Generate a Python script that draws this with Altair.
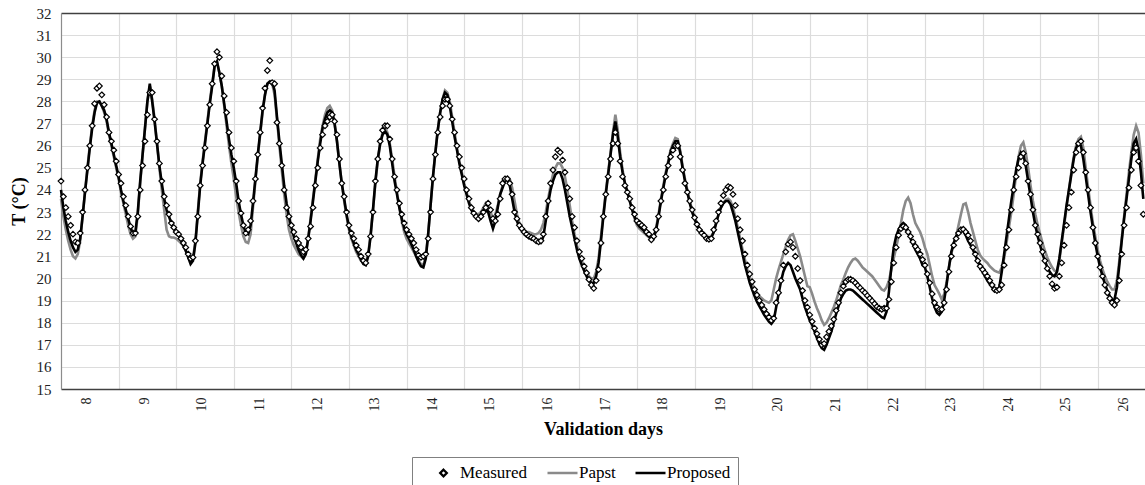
import altair as alt
import pandas as pd

# Day numbers shown on the category axis (one label per validation day)
day_labels = [8, 9, 10, 11, 12, 13, 14, 15, 16, 17, 18, 19, 20, 21, 22, 23, 24, 25, 26]

# Hourly air temperature (°C), starting at 00:00 of day 8
measured = [
    24.4, 23.7, 23.2, 22.8, 22.4, 22.0, 21.65, 21.6, 22.05, 23.0, 24.0, 25.0, 26.0, 26.9, 27.9, 28.6, 28.7, 28.3, 27.85, 27.3, 26.6, 26.2, 25.8, 25.3,  # 8
    24.7, 24.3, 23.7, 23.3, 22.8, 22.35, 22.05, 22.05, 22.8, 24.0, 25.1, 26.2, 27.4, 28.4, 28.4, 27.2, 26.2, 25.2, 24.4, 23.7, 23.3, 22.9, 22.5, 22.3,  # 9
    22.1, 22.0, 21.8, 21.6, 21.4, 21.1, 20.9, 20.95, 21.7, 22.8, 24.2, 25.1, 25.9, 26.9, 27.85, 28.8, 29.7, 30.25, 30.0, 29.15, 28.25, 27.5, 26.6, 25.9,  # 10
    25.3, 24.4, 23.5, 22.95, 22.4, 22.05, 22.2, 22.6, 23.5, 24.5, 25.6, 26.6, 27.7, 28.6, 29.4, 29.85, 28.85, 28.8, 27.05, 26.1, 25.1, 24.0, 23.2, 22.8,  # 11
    22.4, 22.1, 21.8, 21.6, 21.4, 21.2, 21.3, 21.8, 22.35, 23.2, 24.2, 25.0, 25.9, 26.5, 26.9, 27.1, 27.3, 27.4, 27.1, 26.5, 25.4, 24.3, 23.7, 23.0,  # 12
    22.4, 22.05, 21.8, 21.5, 21.3, 21.0, 20.8, 20.7, 21.1, 21.9, 23.0, 24.4, 25.4, 26.2, 26.7, 26.9, 26.9, 26.3, 25.4, 24.6, 24.0, 23.4, 22.9, 22.5,  # 13
    22.2, 22.0, 21.8, 21.6, 21.3, 21.05, 20.95, 21.0, 21.1, 21.8, 23.0, 24.5, 25.6, 26.6, 27.3, 27.8, 28.1, 28.1, 27.8, 27.2, 26.6, 26.0, 25.5, 25.0,  # 14
    24.5, 24.0, 23.6, 23.2, 22.95, 22.8, 22.7, 22.8, 23.0, 23.2, 23.4, 23.1, 22.7, 22.6, 22.9, 23.6, 24.3, 24.5, 24.5, 24.3, 23.8, 23.0, 22.7, 22.4,  # 15
    22.25, 22.1, 22.0, 21.9, 21.85, 21.8, 21.7, 21.65, 21.7, 22.0, 22.8, 23.5, 24.3, 24.9, 25.5, 25.8, 25.7, 25.35, 24.8, 24.1, 23.6, 22.8, 22.3, 21.7,  # 16
    21.2, 20.9, 20.55, 20.25, 19.95, 19.7, 19.55, 19.9, 20.4, 21.6, 22.8, 23.8, 24.6, 25.4, 26.1, 26.6, 26.1, 25.3, 24.6, 24.2, 23.9, 23.6, 23.2, 22.9,  # 17
    22.6, 22.5, 22.4, 22.3, 22.1, 22.0, 21.75, 21.9, 22.2, 22.8, 23.5, 24.0, 24.6, 25.1, 25.5, 25.8, 26.0, 26.0, 25.5, 24.9, 24.3, 23.9, 23.5, 23.1,  # 18
    22.75, 22.45, 22.2, 22.05, 21.95, 21.8, 21.77, 21.8, 22.2, 22.6, 23.0, 23.4, 23.75, 24.0, 24.15, 24.1, 23.8, 23.3, 22.7, 22.2, 21.7, 21.1, 20.6, 20.2,  # 19
    19.85, 19.5, 19.25, 19.0, 18.8, 18.6, 18.4, 18.25, 18.1, 18.2, 18.9, 19.35, 19.9, 20.6, 21.2, 21.55, 21.65, 21.4, 21.0, 20.45, 19.9, 19.45, 19.0, 18.7,  # 20
    18.35, 18.05, 17.75, 17.5, 17.25, 17.0, 17.05, 17.35, 17.6, 17.85, 18.15, 18.55, 18.9, 19.35, 19.65, 19.85, 19.95, 19.96, 19.9, 19.8, 19.68, 19.57, 19.45, 19.35,  # 21
    19.22, 19.1, 18.98, 18.85, 18.72, 18.65, 18.6, 18.65, 18.65, 19.05, 19.85, 20.7, 21.4, 21.95, 22.25, 22.35, 22.3, 22.1, 21.9, 21.65, 21.45, 21.3, 21.1, 20.85,  # 22
    20.6, 20.2, 19.8, 19.3, 18.9, 18.7, 18.6, 18.6, 18.9, 19.5, 20.3, 21.0, 21.5, 21.8, 22.05, 22.2, 22.22, 22.1, 21.95, 21.7, 21.4, 21.1, 20.8, 20.55,  # 23
    20.4, 20.25, 20.1, 19.9, 19.7, 19.5, 19.45, 19.5, 19.7, 20.6, 21.4, 22.2, 23.1, 24.0, 24.6, 25.0, 25.5, 25.65, 25.2, 24.4, 23.8, 23.1, 22.4, 22.0,  # 24
    21.6, 21.2, 20.8, 20.45, 20.1, 19.75, 19.55, 19.6, 20.1, 20.7, 21.5, 22.4, 23.2, 23.9, 24.9, 25.7, 26.1, 26.2, 25.7, 24.8, 24.0, 23.2, 22.3, 21.6,  # 25
    21.0, 20.5, 20.1, 19.7, 19.35, 19.1, 18.9, 18.8, 19.0, 19.9, 21.1, 22.4, 23.2, 24.1, 24.9, 25.7, 25.9, 25.3, 24.2, 22.9,  # 26
]

papst = [
    23.6, 22.8, 22.2, 21.7, 21.3, 21.0, 20.9, 21.1, 21.7, 22.8, 23.9, 25.0, 26.0, 26.9, 27.6, 28.0, 28.0, 27.8, 27.5, 27.1, 26.5, 26.0, 25.5, 25.0,  # 8
    24.5, 23.9, 23.4, 22.9, 22.4, 22.0, 21.8, 21.9, 22.9, 24.3, 25.6, 26.8, 28.0, 28.7, 28.1, 27.2, 26.1, 25.0, 24.0, 23.1, 22.2, 21.9, 21.85, 21.85,  # 9
    21.8, 21.7, 21.6, 21.45, 21.25, 21.0, 20.75, 20.9, 21.7, 23.0, 24.3, 25.3, 26.2, 27.1, 28.0, 28.8, 29.6, 29.8, 29.3, 28.7, 27.8, 26.9, 26.0, 25.2,  # 10
    24.5, 23.7, 23.0, 22.4, 21.9, 21.65, 21.6, 22.0, 23.2, 24.4, 25.5, 26.5, 27.5, 28.3, 28.8, 28.9, 28.8, 28.3, 27.2, 26.0, 24.9, 23.8, 22.9, 22.2,  # 11
    21.8, 21.5, 21.3, 21.1, 21.0, 20.9, 21.1, 21.8, 22.7, 23.6, 24.5, 25.4, 26.3, 26.9, 27.4, 27.7, 27.8, 27.6, 27.0, 26.2, 25.2, 24.3, 23.5, 22.8,  # 12
    22.2, 21.8, 21.5, 21.2, 21.0, 20.8, 20.7, 20.7, 21.1, 22.0, 23.1, 24.3, 25.3, 26.1, 26.6, 26.8, 26.6, 26.1, 25.4, 24.6, 23.9, 23.2, 22.6, 22.1,  # 13
    21.8, 21.6, 21.4, 21.2, 21.0, 20.8, 20.65, 20.6, 21.0, 22.0, 23.3, 24.6, 25.7, 26.7, 27.5, 28.1, 28.5, 28.4, 28.0, 27.3, 26.6, 25.9, 25.3, 24.8,  # 14
    24.3, 23.9, 23.5, 23.2, 23.0, 22.9, 22.9, 23.0, 23.2, 23.4, 23.3, 23.0, 22.7, 22.9, 23.3, 23.8, 24.2, 24.5, 24.6, 24.5, 24.1, 23.5, 22.9, 22.5,  # 15
    22.3, 22.2, 22.1, 22.1, 22.05, 22.0, 22.0, 22.05, 22.2, 22.5, 23.0, 23.6, 24.2, 24.7, 25.0, 25.2, 25.2, 25.0, 24.6, 24.0, 23.3, 22.6, 22.0, 21.5,  # 16
    21.1, 20.8, 20.55, 20.3, 20.1, 20.0, 20.0, 20.3, 20.9, 21.9, 22.9, 23.9, 24.8, 25.7, 26.6, 27.4, 26.7, 25.7, 24.9, 24.3, 23.9, 23.5, 23.1, 22.7,  # 17
    22.4, 22.25, 22.15, 22.05, 21.95, 21.85, 21.8, 21.9, 22.3, 22.9, 23.6, 24.2, 24.8, 25.3, 25.8, 26.1, 26.35, 26.3, 25.8, 25.1, 24.5, 24.0, 23.5, 23.1,  # 18
    22.8, 22.5, 22.3, 22.1, 22.0, 21.9, 21.85, 21.9, 22.1, 22.5, 22.9, 23.2, 23.4, 23.55, 23.6, 23.5, 23.2, 22.8, 22.3, 21.8, 21.3, 20.85, 20.4, 20.05,  # 19
    19.75, 19.55, 19.35, 19.2, 19.1, 19.0, 18.95, 18.9, 19.0, 19.5, 20.0, 20.4, 20.75, 21.1, 21.45, 21.75, 21.95, 22.0, 21.7, 21.35, 21.0, 20.55, 20.1, 19.65,  # 20
    19.6, 19.3, 18.95, 18.65, 18.4, 18.1, 17.9, 18.0, 18.2, 18.45, 18.7, 19.0, 19.35, 19.7, 19.95, 20.25, 20.5, 20.7, 20.85, 20.9, 20.8, 20.65, 20.5, 20.4,  # 21
    20.3, 20.2, 20.1, 19.95, 19.8, 19.65, 19.5, 19.45, 19.6, 19.9, 20.4, 20.9, 21.4, 21.9, 22.5, 23.1, 23.5, 23.65, 23.4, 22.9, 22.5, 22.3, 22.1, 21.8,  # 22
    21.4, 21.1, 20.6, 20.1, 19.7, 19.5, 19.3, 19.05, 19.3, 19.8, 20.5, 21.1, 21.6, 21.9, 22.4, 22.9, 23.35, 23.4, 23.0, 22.5, 22.1, 21.7, 21.3, 21.05,  # 23
    20.9, 20.8, 20.7, 20.55, 20.45, 20.35, 20.3, 20.26, 20.5, 20.9, 21.6, 22.3, 23.0, 23.8, 24.7, 25.5, 26.0, 26.15, 25.7, 25.0, 24.2, 23.5, 22.9, 22.4,  # 24
    22.0, 21.6, 21.25, 20.95, 20.7, 20.5, 20.35, 20.3, 20.8, 21.6, 22.4, 23.2, 24.0, 24.8, 25.5, 26.0, 26.3, 26.4, 25.9, 25.0, 24.1, 23.3, 22.5, 21.9,  # 25
    21.3, 20.8, 20.4, 20.1, 19.85, 19.65, 19.5, 19.5, 19.9, 20.8, 21.8, 22.8, 23.8, 24.8, 25.7, 26.5, 26.9, 26.6, 25.6, 24.3,  # 26
]

proposed = [
    24.0, 23.2, 22.6, 22.1, 21.7, 21.4, 21.2, 21.3, 21.8, 22.8, 23.9, 24.9, 25.9, 26.8, 27.5, 27.95, 28.0, 27.8, 27.6, 27.2, 26.6, 26.1, 25.6, 25.1,  # 8
    24.6, 24.0, 23.5, 23.1, 22.7, 22.3, 22.0, 22.1, 23.0, 24.4, 25.6, 26.8, 28.0, 28.8, 28.0, 27.1, 26.1, 25.1, 24.3, 23.6, 23.1, 22.8, 22.5, 22.3,  # 9
    22.1, 21.95, 21.75, 21.5, 21.25, 20.95, 20.65, 20.8, 21.6, 22.9, 24.2, 25.2, 26.1, 27.0, 27.9, 28.7, 29.6, 29.8, 29.3, 28.7, 27.9, 27.1, 26.3, 25.6,  # 10
    25.0, 24.3, 23.5, 22.9, 22.4, 22.05, 22.0, 22.4, 23.4, 24.5, 25.6, 26.6, 27.6, 28.3, 28.8, 28.9, 28.9, 28.5, 27.3, 26.2, 25.2, 24.2, 23.4, 22.8,  # 11
    22.3, 21.9, 21.6, 21.3, 21.05, 20.9, 21.1, 21.8, 22.6, 23.5, 24.4, 25.3, 26.1, 26.8, 27.2, 27.5, 27.6, 27.5, 27.0, 26.2, 25.2, 24.3, 23.6, 22.9,  # 12
    22.3, 21.9, 21.6, 21.3, 21.1, 20.85, 20.65, 20.6, 21.0, 21.9, 23.1, 24.4, 25.4, 26.1, 26.5, 26.65, 26.5, 26.0, 25.2, 24.4, 23.8, 23.2, 22.7, 22.3,  # 13
    22.0, 21.8, 21.55, 21.3, 21.0, 20.75, 20.55, 20.5, 20.9, 22.0, 23.3, 24.6, 25.7, 26.7, 27.5, 28.1, 28.4, 28.3, 27.8, 27.1, 26.4, 25.8, 25.2, 24.7,  # 14
    24.2, 23.8, 23.4, 23.1, 22.9, 22.8, 22.8, 22.9, 23.0, 23.1, 23.0, 22.6, 22.25, 22.6, 23.2, 23.8, 24.1, 24.4, 24.5, 24.2, 23.6, 23.0, 22.6, 22.3,  # 15
    22.15, 22.0, 21.9, 21.85, 21.8, 21.75, 21.7, 21.6, 21.6, 21.9, 22.6, 23.4, 24.0, 24.4, 24.7, 24.8, 24.8, 24.5, 24.0, 23.4, 22.8, 22.3, 21.8, 21.3,  # 16
    20.9, 20.6, 20.35, 20.1, 19.9, 19.8, 19.8, 20.1, 20.7, 21.7, 22.8, 23.8, 24.7, 25.6, 26.5, 27.1, 26.4, 25.5, 24.8, 24.3, 23.9, 23.5, 23.1, 22.8,  # 17
    22.5, 22.35, 22.25, 22.15, 22.0, 21.9, 21.8, 21.85, 22.2, 22.8, 23.5, 24.1, 24.7, 25.2, 25.7, 26.0, 26.2, 26.2, 25.7, 25.0, 24.4, 23.9, 23.4, 23.0,  # 18
    22.7, 22.4, 22.2, 22.05, 21.95, 21.85, 21.8, 21.85, 22.1, 22.5, 22.9, 23.2, 23.4, 23.5, 23.5, 23.35, 23.0, 22.6, 22.1, 21.6, 21.1, 20.6, 20.2, 19.8,  # 19
    19.5, 19.2, 18.95, 18.75, 18.55, 18.35, 18.2, 18.05, 17.95, 18.1, 18.7, 19.3, 19.85, 20.3, 20.55, 20.7, 20.6, 20.3, 20.0, 19.75, 19.5, 19.1, 18.7, 18.4,  # 20
    18.1, 17.9, 17.6, 17.3, 17.05, 16.85, 16.77, 17.0, 17.3, 17.6, 18.0, 18.4, 18.75, 19.1, 19.3, 19.45, 19.5, 19.5, 19.45, 19.35, 19.25, 19.15, 19.05, 18.95,  # 21
    18.85, 18.75, 18.65, 18.55, 18.45, 18.35, 18.25, 18.2, 18.5, 19.4, 20.5, 21.4, 21.9, 22.2, 22.4, 22.5, 22.4, 22.1, 21.8, 21.55, 21.3, 21.1, 20.9, 20.6,  # 22
    20.5, 20.1, 19.6, 19.1, 18.7, 18.45, 18.35, 18.5, 19.0, 19.7, 20.5, 21.2, 21.6, 21.9, 22.1, 22.2, 22.15, 21.95, 21.7, 21.5, 21.3, 21.05, 20.8, 20.55,  # 23
    20.3, 20.1, 19.9, 19.75, 19.6, 19.45, 19.4, 19.6, 20.3, 21.1, 21.9, 22.7, 23.5, 24.2, 24.9, 25.4, 25.7, 25.6, 25.1, 24.4, 23.7, 23.0, 22.4, 21.9,  # 24
    21.5, 21.1, 20.8, 20.5, 20.3, 20.15, 20.1, 20.3, 20.9, 21.7, 22.5, 23.3, 24.0, 24.7, 25.4, 25.9, 26.1, 26.0, 25.4, 24.6, 23.8, 23.0, 22.3, 21.6,  # 25
    21.0, 20.5, 20.1, 19.75, 19.45, 19.2, 19.0, 19.05, 19.6, 20.6, 21.7, 22.7, 23.6, 24.5, 25.4, 26.1, 26.3, 25.8, 24.8, 23.6,  # 26
]

series_names = ["Measured", "Papst", "Proposed"]
series_colors = ["#000000", "#8a8a8a", "#000000"]
# small diamond path (unit square coordinates) for the measured markers; lines use the stroke symbol
diamond_path = "M0,-0.22L0.22,0L0,0.22L-0.22,0Z"
series_shapes = [diamond_path, "stroke", "stroke"]

HOURS_PER_DAY = 24
hours = list(range(len(measured)))
x_end = 451.7  # visible time span in hours

lines_df = pd.concat([
    pd.DataFrame({"hour": hours, "T": papst, "series": "Papst"}),
    pd.DataFrame({"hour": hours, "T": proposed, "series": "Proposed"}),
], ignore_index=True)
meas_df = pd.DataFrame({"hour": hours, "T": measured, "series": "Measured"})

serif = "Liberation Serif, Times New Roman, serif"
center_ticks = [HOURS_PER_DAY * i + HOURS_PER_DAY // 2 for i in range(len(day_labels))]
boundary_ticks = [HOURS_PER_DAY * i for i in range(1, len(day_labels))]
label_expr = "[" + ",".join(f"'{d}'" for d in day_labels) + "][floor(datum.value / 24)]"

x_scale = alt.Scale(domain=[0, x_end], nice=False, zero=False)
y_scale = alt.Scale(domain=[15, 32], nice=False, zero=False)

y_axis = alt.Axis(
    values=list(range(15, 33)), title="T (°C)", grid=True, gridColor="#dcdcdc", gridWidth=1.2,
    ticks=False, domainColor="#8c8c8c", domainWidth=1.2,
    labelFont=serif, labelFontSize=15, labelColor="#222222", labelPadding=10,
    titleFont=serif, titleFontSize=18, titleFontWeight="bold", titleColor="#000000", titlePadding=8,
)

legend = alt.Legend(
    title=None, orient="none", legendX=351, legendY=444, direction="horizontal",
    strokeColor="#808080", padding=7, clipHeight=18, symbolSize=900,
    symbolOffset=8, labelOffset=0, columnPadding=10, symbolStrokeWidth=2.3,
    labelFont=serif, labelFontSize=17, labelColor="#000000",
)

color = alt.Color("series:N", scale=alt.Scale(domain=series_names, range=series_colors), legend=legend)

lines = alt.Chart(lines_df).mark_line(strokeWidth=2.6).encode(
    x=alt.X("hour:Q", scale=x_scale, axis=alt.Axis(
        orient="bottom", values=center_ticks, labelExpr=label_expr, labelAngle=270,
        grid=False, ticks=False, domainColor="#404040", domainWidth=1.5,
        labelFont=serif, labelFontSize=14, labelColor="#222222", labelPadding=8, labelOffset=-3,
        title="Validation days", titleFont=serif, titleFontSize=18, titleFontWeight="bold",
        titleColor="#000000", titlePadding=9,
    )),
    y=alt.Y("T:Q", scale=y_scale, axis=y_axis),
    color=color,
)

points = alt.Chart(meas_df).mark_point(filled=False, fill="white", size=670, strokeWidth=1.2, opacity=1).encode(
    x=alt.X("hour:Q", scale=x_scale, axis=alt.Axis(
        orient="top", values=boundary_ticks, labels=False, ticks=False, grid=True,
        gridColor="#dcdcdc", gridWidth=1.2, domainColor="#404040", domainWidth=1.5, title=None,
    )),
    y=alt.Y("T:Q", scale=y_scale, axis=y_axis),
    color=color,
    shape=alt.Shape("series:N", scale=alt.Scale(domain=series_names, range=series_shapes), legend=legend),
)

chart = alt.layer(lines, points).resolve_axis(x="independent").properties(
    width=1084, height=376,
    autosize=alt.AutoSizeParams(type="none"),
    padding={"left": 61, "top": 13, "right": 0, "bottom": 96},
    background="white",
).configure(
    font=serif,
).configure_axis(
    labelFont=serif, titleFont=serif,
).configure_legend(
    labelFont=serif,
).configure_view(strokeWidth=0)

chart.save("out.html", embed_options={"renderer": "svg", "actions": False})
